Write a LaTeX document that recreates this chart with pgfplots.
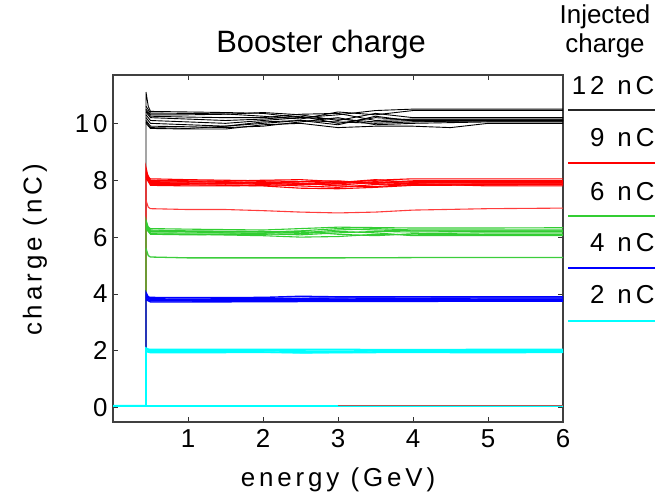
\documentclass[border=0pt]{standalone}
\usepackage{fontspec}
\setmainfont{Liberation Sans}
\newfontfamily\thinfont{Liberation Sans}[LetterSpace=15]
\usepackage{pgfplots}
\pgfplotsset{compat=1.18}
\definecolor{cRed}{RGB}{255,0,0}
\definecolor{cRedL}{RGB}{255,60,60}
\definecolor{cGreen}{RGB}{50,205,50}
\definecolor{cGreenL}{RGB}{60,205,60}
\definecolor{cBlue}{RGB}{0,0,255}
\definecolor{cCyan}{RGB}{0,255,255}
\definecolor{cBrown}{RGB}{170,90,90}
\pgfplotsset{
  bk/.style={black, line width=0.9bp},
  rd/.style={cRed, line width=1.1bp},
  gr/.style={cGreen, line width=1.1bp},
  bl/.style={cBlue, line width=1.4bp},
  cy/.style={cCyan, line width=1.6bp},
}
\begin{document}
\begin{tikzpicture}[x=1bp,y=1bp]
\path[use as bounding box] (0,0) rectangle (671,498);
\begin{axis}[at={(113bp,76bp)}, anchor=south west, scale only axis,
    width=450bp, height=347bp,
    xmin=0, xmax=6, ymin=-0.5, ymax=11.7,
    xtick={1,...,6}, ytick={0,2,...,10},
    tick align=inside, major tick length=5bp,
    tick style={black!80, line width=0.8bp},
    axis line style={black!75, line width=1.2bp},
    /pgf/number format/assume math mode=true,
    ticklabel style={font=\thinfont\fontsize{26}{26}\selectfont},
    yticklabel style={xshift=-2bp},
    xticklabel style={yshift=-4bp},
    every axis plot/.append style={no markers}]
% 12 nC
\addplot[bk] coordinates {(0.44,0.07)(0.44,11.1)(0.47,10.6)(0.5,10.42)(1,10.40)(1.5,10.38)(2,10.35)(2.5,10.2)(3,10.3)(3.5,10.45)(4,10.5)(5,10.5)(6,10.5)};
\addplot[bk] coordinates {(0.44,10.6)(0.5,10.36)(1,10.35)(1.5,10.33)(2,10.25)(2.5,10.15)(3,10.4)(3.5,10.3)(4,10.45)(5,10.45)(6,10.45)};
\addplot[bk] coordinates {(0.44,10.5)(0.5,10.3)(1,10.3)(1.5,10.32)(2,10.38)(2.5,10.3)(3,10.1)(3.5,10.35)(4,10.2)(5,10.2)(6,10.2)};
\addplot[bk] coordinates {(0.44,10.45)(0.5,10.25)(1,10.22)(1.5,10.2)(2,10.2)(2.5,10.32)(3,10.35)(3.5,10.1)(4,10.15)(5,10.15)(6,10.15)};
\addplot[bk] coordinates {(0.44,10.4)(0.5,10.2)(1,10.15)(1.5,10.1)(2,10.15)(2.5,10.25)(3,10.0)(3.5,10.2)(4,10.12)(5,10.12)(6,10.12)};
\addplot[bk] coordinates {(0.44,10.3)(0.5,10.1)(1,10.05)(1.5,10.0)(2,10.1)(2.5,10.2)(3,10.15)(3.5,10.05)(4,10.1)(5,10.1)(6,10.1)};
\addplot[bk] coordinates {(0.44,10.2)(0.5,10.0)(1,9.95)(1.5,9.9)(2,10.0)(2.5,10.1)(3,9.95)(3.5,10.25)(4,10.08)(5,10.08)(6,10.08)};
\addplot[bk] coordinates {(0.44,10.1)(0.5,9.9)(1,9.88)(1.5,9.85)(2,9.9)(2.5,10.05)(3,10.2)(3.5,9.95)(4,10.0)(5,10.05)(6,10.05)};
\addplot[bk] coordinates {(0.44,10.0)(0.5,9.82)(1,9.8)(1.5,9.8)(2,9.95)(2.5,10.0)(3,9.85)(3.5,9.9)(4,9.9)(4.5,9.85)(5,10.0)(6,10.0)};
\addplot[bk] coordinates {(0.44,10.05)(0.5,9.85)(1,9.82)(1.5,9.9)(2,10.05)(2.5,10.1)(3,10.05)(3.5,10.0)(4,10.05)(5,10.1)(6,10.1)};
% 9 nC
\addplot[rd] coordinates {(0.44,0.07)(0.44,8.45)(0.47,8.1)(0.5,8.05)(1,8.02)(1.5,8.0)(2,7.98)(2.5,7.95)(3,7.9)(3.5,8.0)(4,8.05)(5,8.05)(6,8.05)};
\addplot[rd] coordinates {(0.44,8.3)(0.5,8.0)(1,7.98)(1.5,7.97)(2,8.0)(2.5,8.02)(3,7.95)(3.5,7.9)(4,7.95)(5,7.95)(6,7.95)};
\addplot[rd] coordinates {(0.44,8.25)(0.5,7.95)(1,7.93)(1.5,7.95)(2,7.9)(2.5,7.85)(3,7.92)(3.5,8.02)(4,7.92)(5,7.92)(6,7.92)};
\addplot[rd] coordinates {(0.44,8.2)(0.5,7.92)(1,7.9)(1.5,7.9)(2,7.85)(2.5,7.8)(3,7.75)(3.5,7.85)(4,7.9)(5,7.9)(6,7.9)};
\addplot[rd] coordinates {(0.44,8.15)(0.5,7.88)(1,7.87)(1.5,7.88)(2,7.92)(2.5,7.9)(3,7.8)(3.5,7.78)(4,7.85)(5,7.87)(6,7.87)};
\addplot[rd] coordinates {(0.44,8.1)(0.5,7.85)(1,7.84)(1.5,7.82)(2,7.8)(2.5,7.72)(3,7.7)(3.5,7.75)(4,7.82)(5,7.83)(6,7.84)};
\addplot[rd] coordinates {(0.44,8.1)(0.5,7.82)(1,7.8)(1.5,7.8)(2,7.82)(2.5,7.85)(3,7.88)(3.5,7.95)(4,7.88)(5,7.8)(6,7.8)};
\addplot[rd] coordinates {(0.44,8.05)(0.5,7.9)(1,7.88)(1.5,7.86)(2,7.88)(2.5,7.95)(3,7.98)(3.5,7.88)(4,7.82)(5,7.85)(6,7.86)};
\addplot[rd] coordinates {(0.44,8.2)(0.5,7.98)(1,7.96)(1.5,7.92)(2,7.95)(2.5,7.88)(3,7.83)(3.5,7.92)(4,7.98)(5,7.98)(6,7.98)};
\addplot[rd, cRedL] coordinates {(0.44,7.3)(0.47,7.05)(0.5,7.0)(1,6.97)(1.5,6.97)(2,6.93)(2.5,6.88)(3,6.85)(3.5,6.88)(4,6.95)(5,7.0)(6,7.02)};
% 6 nC
\addplot[gr] coordinates {(0.44,0.07)(0.44,6.6)(0.47,6.35)(0.5,6.3)(1,6.28)(2,6.25)(2.5,6.3)(3,6.35)(4,6.32)(5,6.32)(6,6.33)};
\addplot[gr] coordinates {(0.44,6.45)(0.5,6.25)(1,6.22)(2,6.2)(2.5,6.15)(3,6.25)(3.5,6.3)(4,6.25)(5,6.25)(6,6.25)};
\addplot[gr] coordinates {(0.44,6.4)(0.5,6.2)(1,6.18)(2,6.12)(2.5,6.08)(3,6.15)(3.5,6.2)(4,6.18)(5,6.2)(6,6.2)};
\addplot[gr] coordinates {(0.44,6.35)(0.5,6.15)(1,6.14)(2,6.15)(2.5,6.2)(3,6.1)(3.5,6.05)(4,6.12)(5,6.15)(6,6.15)};
\addplot[gr] coordinates {(0.44,6.3)(0.5,6.12)(1,6.1)(2,6.05)(2.5,6.0)(3,6.02)(3.5,6.1)(4,6.08)(5,6.1)(6,6.1)};
\addplot[gr] coordinates {(0.44,6.3)(0.5,6.1)(1,6.08)(2,6.1)(2.5,6.12)(3,6.2)(3.5,6.15)(4,6.05)(5,6.05)(6,6.05)};
\addplot[gr] coordinates {(0.44,6.38)(0.5,6.22)(1,6.2)(2,6.18)(2.5,6.22)(3,6.3)(3.5,6.25)(4,6.22)(5,6.22)(6,6.22)};
\addplot[cGreenL, line width=1.3bp] coordinates {(0.44,5.6)(0.47,5.35)(0.5,5.3)(1,5.27)(2,5.27)(3,5.27)(4,5.28)(5,5.28)(6,5.28)};
% 4 nC
\addplot[bl] coordinates {(0.44,0.07)(0.44,4.05)(0.47,3.9)(0.5,3.88)(1,3.87)(2,3.88)(2.5,3.92)(3,3.9)(4,3.9)(5,3.9)(6,3.9)};
\addplot[bl] coordinates {(0.44,3.95)(0.5,3.83)(1,3.82)(2,3.84)(3,3.86)(4,3.85)(5,3.86)(6,3.86)};
\addplot[bl] coordinates {(0.44,3.9)(0.5,3.8)(1,3.79)(2,3.8)(3,3.82)(4,3.8)(5,3.82)(6,3.82)};
\addplot[bl] coordinates {(0.44,3.85)(0.5,3.76)(1,3.76)(2,3.77)(3,3.78)(4,3.77)(5,3.78)(6,3.78)};
\addplot[bl] coordinates {(0.44,3.8)(0.5,3.72)(1,3.72)(2,3.73)(3,3.74)(4,3.74)(5,3.75)(6,3.75)};
% 2 nC
\addplot[cy] coordinates {(0,0.07)(0.44,0.07)(0.44,2.1)(0.47,2.06)(0.5,2.05)(2,2.05)(3,2.05)(4,2.04)(5,2.05)(6,2.05)};
\addplot[cy] coordinates {(0,0.07)(6,0.07)};
\addplot[cy] coordinates {(0.44,2.05)(0.5,2.01)(1,2.0)(2,2.0)(3,1.99)(4,2.01)(5,2.0)(6,2.0)};
\addplot[cy] coordinates {(0.44,2.0)(0.5,1.97)(1,1.96)(2,1.96)(2.5,1.93)(3,1.95)(4,1.97)(5,1.96)(6,1.96)};
\addplot[cy] coordinates {(0.44,1.98)(0.5,1.94)(1,1.94)(2,1.95)(3,1.94)(4,1.95)(5,1.94)(6,1.95)};
\addplot[cBrown, line width=1.4bp] coordinates {(3,0.07)(6,0.07)};
\end{axis}
% titles and axis labels
\node[font=\fontsize{31}{31}\selectfont] at (321,453) {Booster charge};
\node[font=\fontsize{26}{26}\selectfont] at (605,481) {Injected};
\node[font=\fontsize{26}{26}\selectfont] at (605,452) {charge};
\node[font=\thinfont\fontsize{26}{26}\selectfont] at (338,18) {energy (GeV)};
\node[font=\thinfont\fontsize{26}{26}\selectfont, rotate=90] at (35,248) {charge (nC)};
% legend
\node[font=\thinfont\fontsize{26}{26}\selectfont, anchor=east] at (658,412) {12\hspace{13bp}nC};
\node[font=\thinfont\fontsize{26}{26}\selectfont, anchor=east] at (658,360) {9\hspace{13bp}nC};
\node[font=\thinfont\fontsize{26}{26}\selectfont, anchor=east] at (658,306) {6\hspace{13bp}nC};
\node[font=\thinfont\fontsize{26}{26}\selectfont, anchor=east] at (658,255) {4\hspace{13bp}nC};
\node[font=\thinfont\fontsize{26}{26}\selectfont, anchor=east] at (658,203) {2\hspace{13bp}nC};
\draw[black!85, line width=1.3bp] (568,388) -- (655,388);
\draw[cRed, line width=1.3bp] (568,335) -- (655,335);
\draw[cGreen, line width=1.3bp] (568,282) -- (655,282);
\draw[cBlue, line width=1.3bp] (568,230) -- (655,230);
\draw[cCyan, line width=1.3bp] (568,177) -- (655,177);
\end{tikzpicture}
\end{document}
